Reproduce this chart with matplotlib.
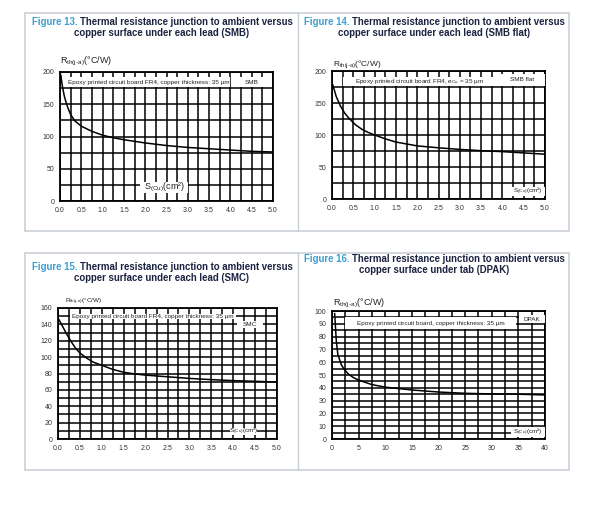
import numpy as np
import matplotlib
matplotlib.use('Agg')
import matplotlib.pyplot as plt
from matplotlib.patches import Rectangle

plt.rcParams['font.family'] = ['Liberation Sans', 'DejaVu Sans']
plt.rcParams['mathtext.default'] = 'regular'

# curves
smb_x = [0.02, 0.05, 0.1, 0.15, 0.2, 0.25, 0.35, 0.5, 0.75, 1.0, 1.25, 1.5, 2.0, 2.5, 3.0, 3.5, 4.0, 4.5, 5.0]
smb_y = [195, 180, 163, 151, 142, 134, 124, 116, 108, 102, 98, 95, 90, 86, 83, 81, 79, 77, 76]
flat_x = [0.02, 0.1, 0.2, 0.3, 0.4, 0.55, 0.7, 0.85, 1.0, 1.25, 1.5, 1.75, 2.0, 2.5, 3.0, 3.5, 4.0, 4.5, 5.0]
flat_y = [178, 160, 145, 134, 126, 116, 109, 104, 100, 94, 89, 86, 83, 80, 77.5, 75.5, 74, 72, 70]
smc_x = [0.02, 0.1, 0.2, 0.3, 0.4, 0.5, 0.65, 0.8, 1.0, 1.25, 1.5, 1.75, 2.0, 2.5, 3.0, 3.5, 4.0, 4.5, 5.0]
smc_y = [146, 138, 128, 119, 111, 105, 99, 94, 90, 85, 81.5, 79.5, 78, 76, 74, 72.5, 71.3, 70.5, 69.5]
dpak_x = [0.5, 0.8, 1.1, 1.75, 2.2, 3, 4, 5, 7.5, 10, 15, 20, 25, 30, 35, 40]
dpak_y = [98, 77, 66, 58, 55, 51, 48, 46, 42.5, 40.5, 38.3, 36.7, 35.7, 35.2, 35, 34.4]

fig_nums = ['Figure 13.', 'Figure 14.', 'Figure 15.', 'Figure 16.']
title1 = ['Thermal resistance junction to ambient versus'] * 4
title2 = ['copper surface under each lead (SMB)',
          'copper surface under each lead (SMB flat)',
          'copper surface under each lead (SMC)',
          'copper surface under tab (DPAK)']
epoxy_txt = ['Epoxy printed circuit board FR4, copper thickness: 35 µm',
             'Epoxy printed circuit board FR4, e$_{Cu}$ = 35 µm',
             'Epoxy printed circuit board FR4, copper thickness: 35 µm',
             'Epoxy printed circuit board, copper thickness: 35 µm']
pkg_txt = ['SMB', 'SMB flat', 'SMC', 'DPAK']

W, H = 598, 515
BLUE = '#3a9fd2'
NAVY = '#1b2240'
BORDER = '#c9d1d8'
TFS = 6.9

fig = plt.figure(figsize=(W / 100, H / 100), dpi=100)
r = fig.canvas.get_renderer()

# table frames
for y0, y1 in [(13, 231), (253, 470)]:
    fig.add_artist(Rectangle((25 / W, 1 - y1 / H), 544 / W, (y1 - y0) / H,
                             transform=fig.transFigure, fill=False, ec=BORDER, lw=1.2))
    fig.add_artist(plt.Line2D([298 / W, 298 / W], [1 - y1 / H, 1 - y0 / H],
                              transform=fig.transFigure, color=BORDER, lw=1.0))


def title(cx, y, num, l1, l2):
    a = fig.text(0, 1 - y / H, num + ' ', color=BLUE, fontsize=TFS, weight='bold', va='baseline')
    b = fig.text(0, 1 - y / H, l1, color=NAVY, fontsize=TFS, weight='bold', va='baseline')
    wa = a.get_window_extent(r).width
    wb = b.get_window_extent(r).width
    x0 = cx - (wa + wb) / 2
    a.set_x(x0 / W)
    b.set_x((x0 + wa) / W)
    fig.text(cx / W, 1 - (y + 11) / H, l2, color=NAVY, fontsize=TFS, weight='bold',
             va='baseline', ha='center')


def panel(rect, x, y, xlim, ylim, xmaj, xmin, ymaj, ymin, fmt, i, boxes, rsize, rpos, ssize=4.6):
    l, t, rr, b = rect
    ax = fig.add_axes([l / W, 1 - b / H, (rr - l) / W, (b - t) / H])
    ax.set_xlim(*xlim)
    ax.set_ylim(*ylim)
    ax.set_xticks(np.arange(xlim[0], xlim[1] + 1e-9, xmaj))
    ax.set_xticks(np.arange(xlim[0], xlim[1] + 1e-9, xmin), minor=True)
    ax.set_yticks(np.arange(ylim[0], ylim[1] + 1e-9, ymaj))
    ax.set_yticks(np.arange(ylim[0], ylim[1] + 1e-9, ymin), minor=True)
    ax.set_xticklabels([fmt % v for v in ax.get_xticks()])
    ax.set_yticklabels(['%d' % v for v in ax.get_yticks()])
    ax.grid(which='both', color='k', lw=1.1)
    ax.tick_params(which='both', length=0, labelsize=5, colors='#333333', pad=4)
    for s in ax.spines.values():
        s.set_linewidth(1.3)
    ax.plot(x, y, color='k', lw=1.1, zorder=2.5)
    labels = [epoxy_txt[i], pkg_txt[i], r'S$_{(Cu)}$(cm²)']
    sizes = [4.6, 4.6, ssize]
    for (x0, x1, y0, y1), txt, fs in zip(boxes, labels, sizes):
        ax.add_patch(Rectangle((x0, y0), x1 - x0, y1 - y0, fc='white', ec='none', zorder=3))
        ax.text((x0 + x1) / 2, (y0 + y1) / 2, txt, fontsize=fs, ha='center', va='center',
                color='#222222', zorder=4)
    fig.text(rpos[0] / W, 1 - rpos[1] / H, r'R$_{th(j\text{-}a)}$(°C/W)', fontsize=rsize,
             color='#222222', va='baseline')
    return ax


title(162, 25, fig_nums[0], title1[0], title2[0])
title(434, 25, fig_nums[1], title1[1], title2[1])
title(162, 270, fig_nums[2], title1[2], title2[2])
title(434, 262, fig_nums[3], title1[3], title2[3])

panel((60, 72, 273, 201), smb_x, smb_y, (0, 5), (0, 200), 0.5, 0.25, 50, 25, '%.1f', 0,
      [(0.15, 4.0, 176, 192), (4.16, 4.85, 176, 192), (1.88, 3.01, 13, 30)], 6.5, (60, 63), 6.5)
panel((332, 71, 545, 199), flat_x, flat_y, (0, 5), (0, 200), 0.5, 0.25, 50, 25, '%.1f', 1,
      [(0.26, 3.83, 176, 191), (3.94, 5.0, 176, 196), (4.17, 5.0, 4, 19)], 6.0, (333, 66))
panel((58, 308, 277, 439), smc_x, smc_y, (0, 5), (0, 160), 0.5, 0.25, 20, 10, '%.1f', 2,
      [(0.27, 4.06, 146, 153), (4.08, 4.69, 136, 144), (3.93, 4.54, 5, 13)], 4.6, (65, 303))
panel((332, 311, 545, 439), dpak_x, dpak_y, (0, 40), (0, 100), 5, 2.5, 10, 5, '%d', 3,
      [(2.4, 34.6, 85.7, 95), (35.1, 40, 90.4, 97), (33.7, 40, 1.3, 9.1)], 6.5, (333, 306))

fig.savefig('out.png', dpi=100)
